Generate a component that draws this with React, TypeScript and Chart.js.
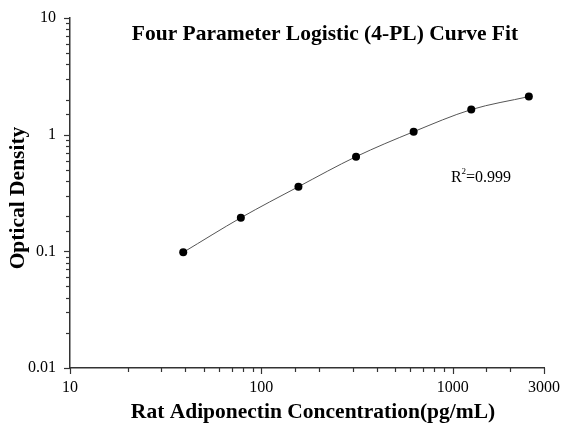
import { useEffect, useRef } from "react";
import { Chart, registerables } from "chart.js";

Chart.register(...registerables);

const concentrations = [39.06, 78.13, 156.25, 312.5, 625, 1250, 2500];
const opticalDensity = [0.098, 0.194, 0.358, 0.648, 1.06, 1.64, 2.12];
const xTickLabels = [10, 100, 1000, 3000];
const yTickLabels = [0.01, 0.1, 1, 10];
const titleText = "Four Parameter Logistic (4-PL) Curve Fit";
const xTitle = "Rat Adiponectin Concentration(pg/mL)";
const yTitle = "Optical Density";
const r2Value = "=0.999";

const SERIF = "'Liberation Serif', 'Times New Roman', serif";

function inList(v: number, list: number[]) {
  return list.some((t) => Math.abs(v - t) / t < 1e-6);
}

const customPlugin = {
  id: "customDecor",
  afterDraw(chart: any) {
    const ctx = chart.ctx as CanvasRenderingContext2D;
    const xs = chart.scales.x;
    const ys = chart.scales.y;
    const area = chart.chartArea;
    ctx.save();
    ctx.strokeStyle = "#333";
    ctx.lineWidth = 1.2;
    xs.ticks.forEach((t: any) => {
      const px = Math.round(xs.getPixelForValue(t.value)) + 0.5;
      const len = inList(t.value, xTickLabels) ? 6 : 4;
      ctx.beginPath();
      ctx.moveTo(px, area.bottom);
      ctx.lineTo(px, area.bottom + len);
      ctx.stroke();
    });
    ys.ticks.forEach((t: any) => {
      const py = Math.round(ys.getPixelForValue(t.value)) + 0.5;
      const len = inList(t.value, yTickLabels) ? 6 : 4;
      ctx.beginPath();
      ctx.moveTo(area.left, py);
      ctx.lineTo(area.left - len, py);
      ctx.stroke();
    });

    ctx.fillStyle = "#000";
    // title
    ctx.font = `bold 21.5px ${SERIF}`;
    ctx.textAlign = "center";
    ctx.textBaseline = "alphabetic";
    ctx.fillText(titleText, 325, 40);
    // x title
    ctx.font = `bold 21.5px ${SERIF}`;
    ctx.fillText(xTitle, 313, 418);
    // y title
    ctx.save();
    ctx.translate(24, 198);
    ctx.rotate(-Math.PI / 2);
    ctx.font = `bold 21.5px ${SERIF}`;
    ctx.fillText(yTitle, 0, 0);
    ctx.restore();
    // R^2
    ctx.font = `16px ${SERIF}`;
    ctx.textAlign = "left";
    const rW = ctx.measureText("R").width;
    ctx.font = `9px ${SERIF}`;
    const sW = ctx.measureText("2").width;
    ctx.font = `16px ${SERIF}`;
    const eW = ctx.measureText(r2Value).width;
    const total = rW + sW + eW;
    const x0 = 481 - total / 2;
    ctx.fillText("R", x0, 182);
    ctx.font = `9px ${SERIF}`;
    ctx.fillText("2", x0 + rW, 174);
    ctx.font = `16px ${SERIF}`;
    ctx.fillText(r2Value, x0 + rW + sW, 182);
    ctx.restore();
  },
};

export default function App() {
  const ref = useRef<HTMLCanvasElement>(null);
  useEffect(() => {
    const chart = new Chart(ref.current as HTMLCanvasElement, {
      type: "line",
      data: {
        datasets: [
          {
            data: concentrations.map((x, i) => ({ x, y: opticalDensity[i] })),
            borderColor: "#555",
            borderWidth: 1,
            pointBackgroundColor: "#000",
            pointBorderColor: "#000",
            pointRadius: 4,
            pointBorderWidth: 0,
            cubicInterpolationMode: "monotone",
            fill: false,
          },
        ],
      },
      options: {
        responsive: false,
        animation: false,
        layout: { padding: { top: 18, right: 24, left: 0, bottom: 0 } },
        plugins: {
          legend: { display: false },
          title: { display: false },
          tooltip: { enabled: false },
        },
        scales: {
          x: {
            type: "logarithmic",
            min: 10,
            max: 3000,
            afterFit: (s: any) => {
              s.height = 60;
            },
            grid: {
              display: true,
              drawOnChartArea: false,
              drawTicks: true,
              tickLength: 6,
              tickColor: "rgba(0,0,0,0)",
            },
            border: { display: true, color: "#333", width: 1.5 },
            ticks: {
              autoSkip: false,
              maxRotation: 0,
              padding: 4,
              color: "#000",
              font: { family: SERIF, size: 16 },
              callback: (v: any) => (inList(Number(v), xTickLabels) ? String(Number(v)) : ""),
            },
          },
          y: {
            type: "logarithmic",
            min: 0.01,
            max: 10,
            afterFit: (s: any) => {
              s.width = 70;
            },
            grid: {
              display: true,
              drawOnChartArea: false,
              drawTicks: true,
              tickLength: 6,
              tickColor: "rgba(0,0,0,0)",
            },
            border: { display: true, color: "#333", width: 1.5 },
            ticks: {
              autoSkip: false,
              padding: 8,
              color: "#000",
              font: { family: SERIF, size: 16 },
              callback: (v: any) => (inList(Number(v), yTickLabels) ? String(Number(v)) : ""),
            },
          },
        },
      },
      plugins: [customPlugin],
    } as any);
    return () => chart.destroy();
  }, []);
  return (
    <canvas
      ref={ref}
      width={568}
      height={428}
      style={{ position: "absolute", left: 0, top: 0, display: "block", background: "#fff" }}
    />
  );
}
